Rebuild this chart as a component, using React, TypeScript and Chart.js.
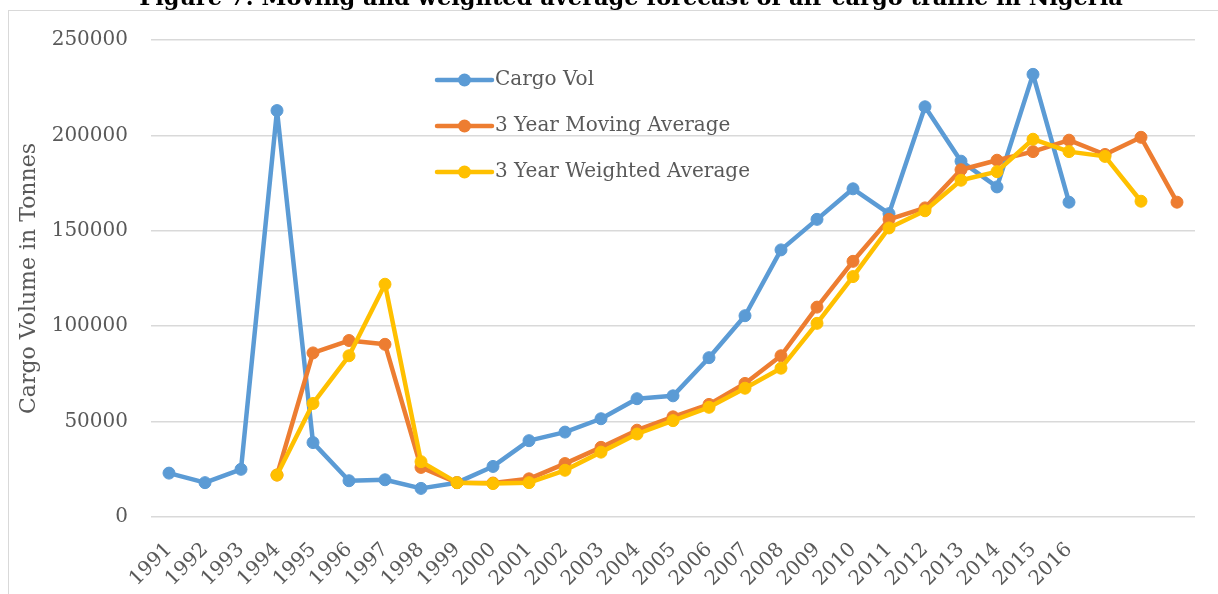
import React, { useEffect, useRef } from "react";
import { Chart, registerables } from "chart.js";

Chart.register(...registerables);

const TITLE = "Figure 7: Moving and weighted average forecast of air cargo traffic in Nigeria";
const Y_TITLE = "Cargo Volume in Tonnes";

const years = [
  "1991", "1992", "1993", "1994", "1995", "1996", "1997", "1998", "1999", "2000",
  "2001", "2002", "2003", "2004", "2005", "2006", "2007", "2008", "2009", "2010",
  "2011", "2012", "2013", "2014", "2015", "2016", "", "", "",
];

const cargoVol = [
  23000, 18000, 25000, 213000, 39000, 19000, 19500, 15000, 18000, 26500,
  40000, 44500, 51500, 62000, 63500, 83500, 105500, 140000, 156000, 172000,
  159000, 215000, 186500, 173000, 232000, 165000, null, null, null,
];

const movingAvg = [
  null, null, null, 22000, 86000, 92500, 90500, 26000, 18000, 17800,
  20000, 28000, 36500, 45500, 52500, 59000, 70000, 84500, 110000, 134000,
  156000, 162000, 182000, 187000, 191500, 197500, 190000, 199000, 165000,
];

const weightedAvg = [
  null, null, null, 22000, 59500, 84500, 122000, 29000, 18000, 17500,
  18000, 24500, 34000, 43500, 50500, 57500, 67500, 78000, 101500, 126000,
  151500, 160500, 176500, 181000, 198000, 191500, 189000, 165500, null,
];

const seriesNames = ["Cargo Vol", "3 Year Moving Average", "3 Year Weighted Average"];
const seriesColors = ["#5B9BD5", "#ED7D31", "#FFC000"];
const yTicks = [0, 50000, 100000, 150000, 200000, 250000];

const FONT = "'DejaVu Serif', serif";
const TEXT_COLOR = "#595959";

const legendPlugin = {
  id: "customLegend",
  afterDraw(chart: any) {
    const ctx = chart.ctx;
    ctx.save();
    chart.data.datasets.forEach((ds: any, i: number) => {
      const y = 80 + i * 46;
      const x0 = 437;
      const x1 = 492;
      ctx.strokeStyle = ds.borderColor;
      ctx.lineWidth = 4.5;
      ctx.lineCap = "round";
      ctx.beginPath();
      ctx.moveTo(x0, y);
      ctx.lineTo(x1, y);
      ctx.stroke();
      ctx.fillStyle = ds.borderColor;
      ctx.beginPath();
      ctx.arc((x0 + x1) / 2, y, 6.5, 0, Math.PI * 2);
      ctx.fill();
      ctx.fillStyle = TEXT_COLOR;
      ctx.font = `20px ${FONT}`;
      ctx.textBaseline = "middle";
      ctx.textAlign = "left";
      ctx.fillText(ds.label, 495, y);
    });
    ctx.restore();
  },
};

export default function App() {
  const canvasRef = useRef<HTMLCanvasElement>(null);

  useEffect(() => {
    if (!canvasRef.current) return;
    const allSeries = [cargoVol, movingAvg, weightedAvg];
    const chart = new Chart(canvasRef.current, {
      type: "line",
      data: {
        labels: years,
        datasets: allSeries.map((d, i) => ({
          label: seriesNames[i],
          data: d,
          borderColor: seriesColors[i],
          backgroundColor: seriesColors[i],
          pointBackgroundColor: seriesColors[i],
          pointBorderColor: seriesColors[i],
          pointBorderWidth: 1,
          pointRadius: 6,
          borderWidth: 4.5,
          borderJoinStyle: "round" as const,
          borderCapStyle: "round" as const,
          tension: 0,
          spanGaps: false,
          order: 3 - i,
        })),
      },
      options: {
        responsive: false,
        animation: false,
        layout: { padding: { left: 12, right: 23, top: 40, bottom: 0 } },
        plugins: {
          legend: { display: false },
          tooltip: { enabled: false },
          title: { display: false },
        },
        scales: {
          x: {
            offset: true,
            grid: { display: false, drawTicks: false },
            border: { display: false },
            ticks: {
              autoSkip: false,
              minRotation: 45,
              maxRotation: 45,
              padding: 21,
              color: TEXT_COLOR,
              font: { family: FONT, size: 20 },
            },
            afterFit: (scale: any) => {
              scale.height = 77;
            },
          },
          y: {
            min: 0,
            max: 250000,
            afterBuildTicks: (scale: any) => {
              scale.ticks = yTicks.map((v) => ({ value: v }));
            },
            grid: { color: "#d9d9d9", lineWidth: 1.5, drawTicks: false },
            border: { display: false },
            ticks: {
              padding: 23,
              color: TEXT_COLOR,
              font: { family: FONT, size: 20 },
              callback: (v: any) => String(v),
            },
            title: {
              display: true,
              text: Y_TITLE,
              color: TEXT_COLOR,
              font: { family: FONT, size: 22, weight: "normal" },
              padding: { top: 4, bottom: 4 },
            },
            afterFit: (scale: any) => {
              scale.width = 139;
            },
          },
        },
      },
      plugins: [legendPlugin],
    });
    return () => chart.destroy();
  }, []);

  return (
    <div
      style={{
        position: "absolute",
        left: 0,
        top: 0,
        width: 1218,
        height: 594,
        overflow: "hidden",
        background: "#fff",
      }}
    >
      <div
        style={{
          position: "absolute",
          left: 8,
          top: 10,
          width: 1230,
          height: 600,
          borderLeft: "1.5px solid #d9d9d9",
          borderTop: "1.5px solid #d9d9d9",
        }}
      />
      <canvas
        ref={canvasRef}
        width={1218}
        height={594}
        style={{ position: "absolute", left: 0, top: 0, display: "block" }}
      />
      <div
        style={{
          position: "absolute",
          top: -13,
          left: 0,
          width: 1218,
          paddingLeft: 44,
          boxSizing: "border-box",
          textAlign: "center",
          fontFamily: FONT,
          fontWeight: "bold",
          fontSize: 22.5,
          lineHeight: "20px",
          color: "#000",
          whiteSpace: "nowrap",
        }}
      >
        {TITLE}
      </div>
    </div>
  );
}
